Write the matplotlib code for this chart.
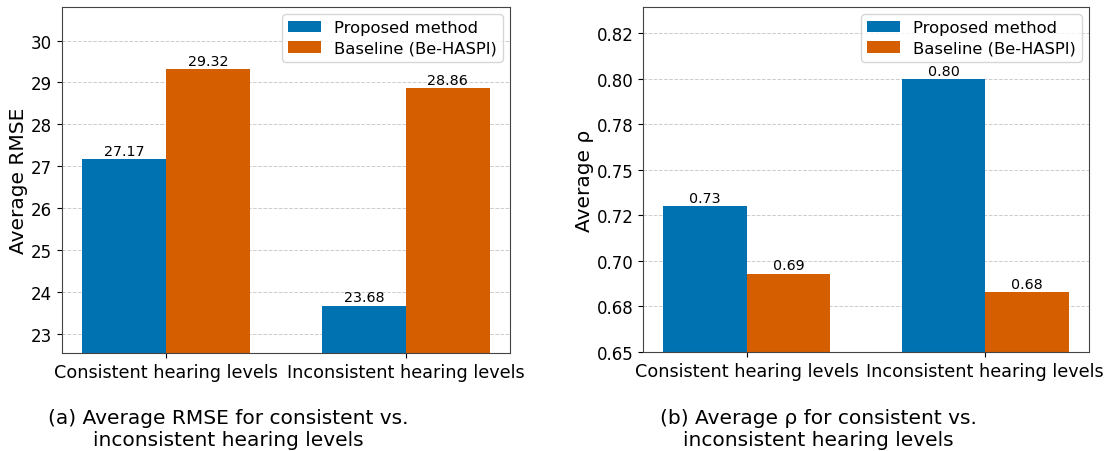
import matplotlib
matplotlib.use("Agg")
import matplotlib.pyplot as plt
import numpy as np
from matplotlib.ticker import FormatStrFormatter, MultipleLocator

categories = ["Consistent hearing levels", "Inconsistent hearing levels"]
series_names = ["Proposed method", "Baseline (Be-HASPI)"]
rmse_proposed = [27.17, 23.68]
rmse_baseline = [29.32, 28.86]
rho_proposed = [0.73, 0.80]
rho_baseline = [0.693, 0.683]
rho_labels_proposed = ["0.73", "0.80"]
rho_labels_baseline = ["0.69", "0.68"]
captions = ["(a) Average RMSE for consistent vs.\ninconsistent hearing levels",
            "(b) Average \u03c1 for consistent vs.\ninconsistent hearing levels"]

blue = "#0072B2"
orange = "#D55E00"

fig = plt.figure(figsize=(11.1, 4.52), dpi=100)
W, H = 1110, 452
ax1 = fig.add_axes([62 / W, 1 - 354 / H, (510 - 62) / W, (354 - 8) / H])
ax2 = fig.add_axes([643 / W, 1 - 353 / H, (1089 - 643) / W, (353 - 8) / H])

x = np.arange(len(categories))
w = 0.35

def draw(ax, p, b, plabels, blabels, ylabel, ylim):
    ax.set_axisbelow(True)
    ax.yaxis.grid(True, linestyle="--", color="#cccccc", linewidth=0.7)
    b1 = ax.bar(x - w / 2, p, w, color=blue, label=series_names[0])
    b2 = ax.bar(x + w / 2, b, w, color=orange, label=series_names[1])
    ax.bar_label(b1, labels=plabels, fontsize=10.3, padding=1)
    ax.bar_label(b2, labels=blabels, fontsize=10.3, padding=1)
    ax.set_xticks(x)
    ax.set_xticklabels(categories, fontsize=12.7)
    ax.tick_params(axis="y", labelsize=12)
    ax.set_ylabel(ylabel, fontsize=14.5, labelpad=2)
    ax.set_ylim(*ylim)
    ax.legend(loc="upper right", fontsize=11.8, labelspacing=0.35,
              borderpad=0.35, borderaxespad=0.45)
    for s in ax.spines.values():
        s.set_color("#444444")

draw(ax1, rmse_proposed, rmse_baseline,
     [f"{v:.2f}" for v in rmse_proposed], [f"{v:.2f}" for v in rmse_baseline],
     "Average RMSE", (22.55, 30.8))
ax1.yaxis.set_major_locator(MultipleLocator(1))

draw(ax2, rho_proposed, rho_baseline, rho_labels_proposed, rho_labels_baseline,
     "Average \u03c1", (0.65, 0.8395))
ax2.yaxis.set_major_locator(MultipleLocator(0.025))
ax2.yaxis.set_major_formatter(FormatStrFormatter("%.2f"))

fig.text(228 / W, 1 - 430 / H, captions[0], ha="center", va="center",
         multialignment="center", fontsize=14.5)
fig.text(818 / W, 1 - 430 / H, captions[1], ha="center", va="center",
         multialignment="center", fontsize=14.5)

fig.savefig("out.png", dpi=100)
